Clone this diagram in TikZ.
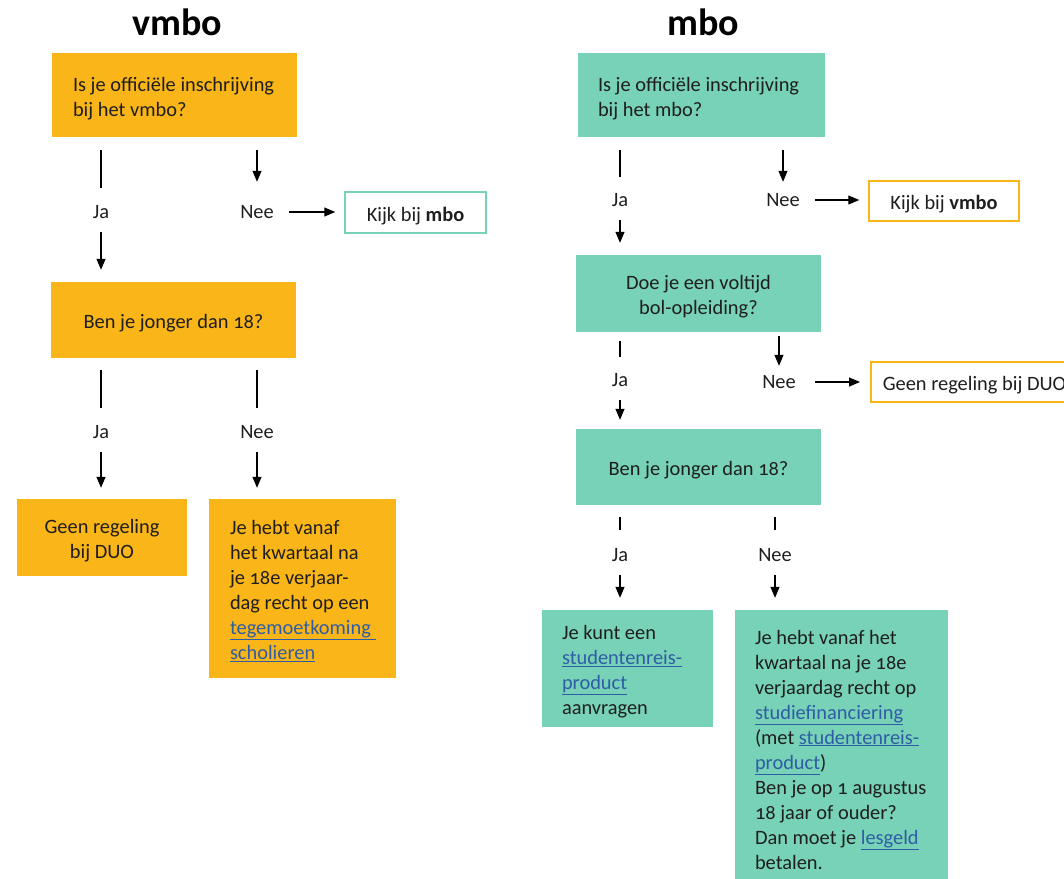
\documentclass[tikz,border=0pt]{standalone}
\usepackage{fontspec}
\setmainfont{Carlito}[Numbers=OldStyle]
\usetikzlibrary{arrows.meta}
\definecolor{orangeF}{RGB}{250,181,24}
\definecolor{tealF}{RGB}{119,210,183}
\definecolor{txt}{RGB}{30,30,30}
\definecolor{linkc}{RGB}{47,93,165}
\newcommand{\lk}[1]{{\color{linkc}\underline{#1}}}
\newcommand{\bxl}[2]{\raisebox{0pt}[\dimexpr\height+7pt\relax][\depth]{\makebox[#1][l]{\begin{tabular}{@{}l@{}}#2\end{tabular}}}}
\newcommand{\bxc}[1]{\raisebox{0pt}[\dimexpr\height+7pt\relax][\depth]{\begin{tabular}{@{}c@{}}#1\end{tabular}}}
\tikzset{
  base/.style={inner sep=0pt, text=txt, font=\fontsize{20.4}{25}\selectfont},
  obox/.style={base, fill=orangeF},
  tbox/.style={base, fill=tealF},
  ttl/.style={inner sep=0pt, text=black, font=\fontsize{38}{40}\selectfont\bfseries},
  lbl/.style={base, minimum width=40pt, minimum height=20pt},
  ln/.style={line width=1.2pt, black},
  ar/.style={ln, -{Triangle[length=11pt,width=9pt]}},
}
\begin{document}
\begin{tikzpicture}[x=1pt,y=-1pt]
\useasboundingbox (0,0) rectangle (1064,878);
\clip (0,0) rectangle (1064,878);
% ---------------- vmbo ----------------
\node[ttl] (vt) at (177,22) {vmbo};
\node[obox, minimum width=245pt, minimum height=84pt] (vb1) at (174.5,95)
  {\bxl{203pt}{Is je officiële inschrijving\\bij het vmbo?}};
\node[lbl] (vja1) at (101,212) {Ja};
\node[lbl] (vnee1) at (257,212) {Nee};
\node[base, draw=tealF, line width=1.5pt, minimum width=141pt, minimum height=41pt] (vk1) at (415.5,212.5) {\bxc{Kijk bij \textbf{mbo}}};
\node[obox, minimum width=245pt, minimum height=76pt] (vb2) at (173.5,320) {\bxc{Ben je jonger dan 18?}};
\node[lbl] (vja2) at (101,432) {Ja};
\node[lbl] (vnee2) at (257,432) {Nee};
\node[obox, minimum width=170pt, minimum height=77pt] (vb3) at (102,537.5) {\bxc{Geen regeling\\bij DUO}};
\node[obox, minimum width=187pt, minimum height=179pt] (vb4) at (302.5,588.5)
  {\bxl{145pt}{Je hebt vanaf\\het kwartaal na\\je 18e verjaar-\\dag recht op een\\\lk{tegemoetkoming\ }\\\lk{scholieren}}};
\draw[ln, shorten <=13pt, shorten >=14pt] (vb1.south -| vja1) -- (vja1.north);
\draw[ar, shorten <=10pt, shorten >=12pt] (vja1.south) -- (vb2.north -| vja1);
\draw[ar, shorten <=13pt, shorten >=20pt] (vb1.south -| vnee1) -- (vnee1.north);
\draw[ar, shorten <=12pt, shorten >=9pt] (vnee1.east) -- (vnee1.east -| vk1.west);
\draw[ln, shorten <=12pt, shorten >=14pt] (vb2.south -| vja2) -- (vja2.north);
\draw[ar, shorten <=10pt, shorten >=11pt] (vja2.south) -- (vb3.north -| vja2);
\draw[ln, shorten <=12pt, shorten >=14pt] (vb2.south -| vnee2) -- (vnee2.north);
\draw[ar, shorten <=10pt, shorten >=11pt] (vnee2.south) -- (vb4.north -| vnee2);
% ---------------- mbo ----------------
\node[ttl] (mt) at (703,22) {mbo};
\node[tbox, minimum width=247pt, minimum height=84pt] (mb1) at (701.5,95)
  {\bxl{207pt}{Is je officiële inschrijving\\bij het mbo?}};
\node[lbl] (mja1) at (620,200) {Ja};
\node[lbl] (mnee1) at (783,200) {Nee};
\node[base, draw=orangeF, line width=1.5pt, minimum width=150pt, minimum height=40pt] (mk1) at (944,201) {\bxc{Kijk bij \textbf{vmbo}}};
\node[tbox, minimum width=245pt, minimum height=77pt] (mb2) at (698.5,293.5) {\bxc{Doe je een voltijd\\bol-opleiding?}};
\node[lbl] (mja2) at (620,380) {Ja};
\node[lbl] (mnee2) at (779,382) {Nee};
\node[base, draw=orangeF, line width=1.5pt, minimum width=200pt, minimum height=40pt, anchor=west] (mk2) at (870,382)
  {\bxl{176pt}{Geen regeling bij DUO}};
\node[tbox, minimum width=245pt, minimum height=76pt] (mb3) at (698.5,467) {\bxc{Ben je jonger dan 18?}};
\node[lbl] (mja3) at (620,555) {Ja};
\node[lbl] (mnee3) at (775,555) {Nee};
\node[tbox, minimum width=171pt, minimum height=117pt] (mb4) at (627.5,668.5)
  {\bxl{131pt}{Je kunt een\\\lk{studentenreis-}\\\lk{product}\\aanvragen}};
\node[tbox, minimum width=213pt, minimum height=276pt] (mb5) at (841.5,748)
  {\bxl{173pt}{Je hebt vanaf het\\kwartaal na je 18e\\verjaardag recht op\\\lk{studiefinanciering}\\(met \lk{studentenreis-}\\\lk{product})\\Ben je op 1 augustus\\18 jaar of ouder?\\Dan moet je \lk{lesgeld}\\betalen.}};
\draw[ln, shorten <=13pt, shorten >=13pt] (mb1.south -| mja1) -- (mja1.north);
\draw[ar, shorten <=10pt, shorten >=12pt] (mja1.south) -- (mb2.north -| mja1);
\draw[ar, shorten <=13pt, shorten >=8pt] (mb1.south -| mnee1) -- (mnee1.north);
\draw[ar, shorten <=12pt, shorten >=9pt] (mnee1.east) -- (mnee1.east -| mk1.west);
\draw[ln, shorten <=9pt, shorten >=13pt] (mb2.south -| mja2) -- (mja2.north);
\draw[ar, shorten <=10pt, shorten >=9pt] (mja2.south) -- (mb3.north -| mja2);
\draw[ar, shorten <=4pt, shorten >=6pt] (mb2.south -| mnee2) -- (mnee2.north);
\draw[ar, shorten <=16pt, shorten >=10pt] (mnee2.east) -- (mnee2.east -| mk2.west);
\draw[ln, shorten <=12pt, shorten >=15pt] (mb3.south -| mja3) -- (mja3.north);
\draw[ar, shorten <=10pt, shorten >=12pt] (mja3.south) -- (mb4.north -| mja3);
\draw[ln, shorten <=12pt, shorten >=15pt] (mb3.south -| mnee3) -- (mnee3.north);
\draw[ar, shorten <=10pt, shorten >=12pt] (mnee3.south) -- (mb5.north -| mnee3);
\end{tikzpicture}
\end{document}
